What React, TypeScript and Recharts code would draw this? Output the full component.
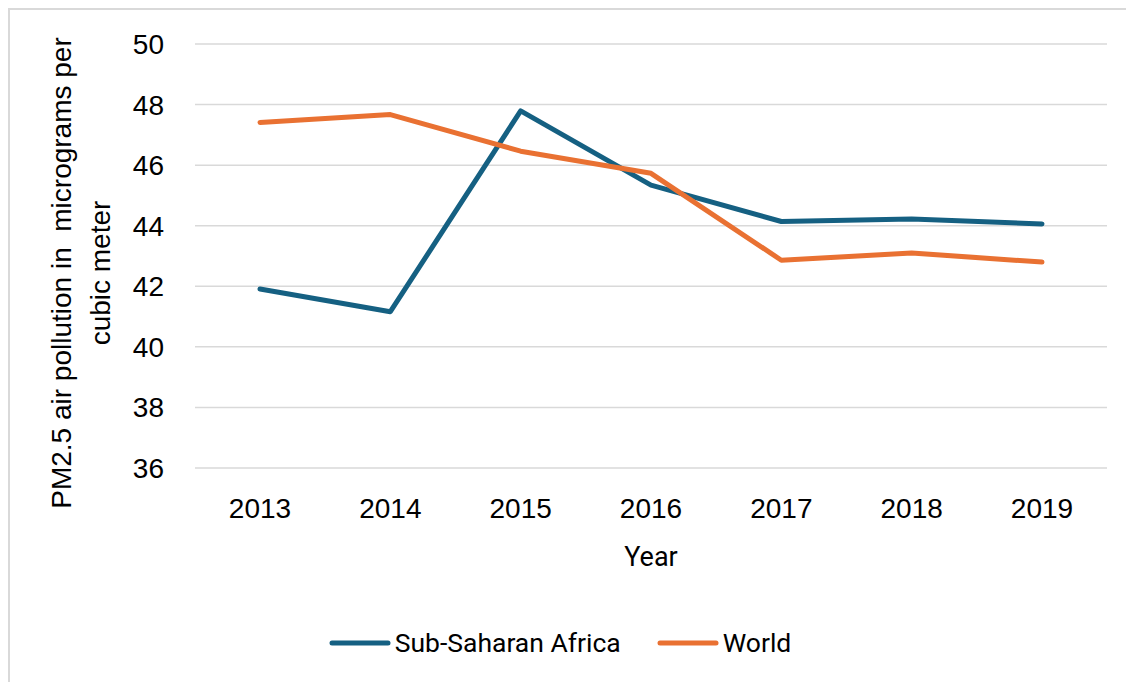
import React from "react";
import { LineChart, Line, XAxis, YAxis, CartesianGrid, Legend, Label } from "recharts";

const years = ["2013", "2014", "2015", "2016", "2017", "2018", "2019"];
const subSaharanAfrica = [41.91, 41.16, 47.79, 45.34, 44.14, 44.22, 44.06];
const world = [47.41, 47.67, 46.46, 45.73, 42.86, 43.1, 42.8];
const yTicks = [36, 38, 40, 42, 44, 46, 48, 50];

const seriesInfo = [
  { key: "ssa", name: "Sub-Saharan Africa", color: "#156082" },
  { key: "world", name: "World", color: "#E97132" },
];

const data = years.map((y, i) => ({ year: y, ssa: subSaharanAfrica[i], world: world[i] }));

const TICK_FONT = "'Liberation Sans', Arial, sans-serif";
const LEGEND_FONT = "Roboto, 'Noto Sans', sans-serif";

const YLabel = (props: any) => {
  const vb = props.viewBox || {};
  const cx = 61;
  const cy = (vb.y ?? 34) + (vb.height ?? 424) / 2 + 17;
  return (
    <text
      transform={`rotate(-90, ${cx}, ${cy})`}
      x={cx}
      y={cy}
      textAnchor="middle"
      fontFamily={TICK_FONT}
      fontSize={28}
      fill="#000"
    >
      <tspan x={cx} dy={0}>{"PM2.5 air pollution in\u00a0 micrograms per"}</tspan>
      <tspan x={cx} dy={39}>cubic meter</tspan>
    </text>
  );
};

const XLabel = (props: any) => {
  const vb = props.viewBox || {};
  const x = (vb.x ?? 185) + (vb.width ?? 912) / 2;
  const y = (vb.y ?? 458) + 97.7;
  return (
    <text x={x} y={y} textAnchor="middle" fontFamily={LEGEND_FONT} fontSize={27} fill="#000">
      Year
    </text>
  );
};

const LegendContent = () => (
  <div
    style={{
      display: "flex",
      justifyContent: "center",
      alignItems: "center",
      fontFamily: LEGEND_FONT,
      fontSize: 26.5,
      color: "#000",
    }}
  >
    {seriesInfo.map((s, i) => (
      <div key={s.key} style={{ display: "flex", alignItems: "center", marginLeft: i === 0 ? 0 : 36 }}>
        <svg width={62} height={8} style={{ marginRight: 4 }}>
          <line x1={3} y1={4} x2={59} y2={4} stroke={s.color} strokeWidth={5} strokeLinecap="round" />
        </svg>
        <span>{s.name}</span>
      </div>
    ))}
  </div>
);

export default function App() {
  return (
    <div>
      <style>{`body{overflow:hidden;}`}</style>
      <div
        style={{
          position: "relative",
          width: 1140,
          height: 690,
          border: "2px solid #d9d9d9",
          boxSizing: "content-box",
          background: "#fff",
        }}
      >
        <LineChart
          width={1124}
          height={672}
          data={data}
          margin={{ top: 34, right: 27, left: 0, bottom: 104 }}
        >
          <CartesianGrid vertical={false} stroke="#d9d9d9" strokeWidth={1.5} />
          <XAxis
            dataKey="year"
            axisLine={false}
            tickLine={false}
            tickSize={0}
            tickMargin={30}
            height={110}
            padding={{ left: 65, right: 65 }}
            tick={{ fontFamily: TICK_FONT, fontSize: 28, fill: "#000" }}
            interval={0}
          >
            <Label content={<XLabel />} />
          </XAxis>
          <YAxis
            domain={[36, 50]}
            ticks={yTicks}
            axisLine={false}
            tickLine={false}
            tickSize={0}
            tickMargin={31}
            width={185}
            tick={{ fontFamily: TICK_FONT, fontSize: 28, fill: "#000" }}
            interval={0}
          >
            <Label content={<YLabel />} />
          </YAxis>
          <Legend
            layout="horizontal"
            verticalAlign="middle"
            align="center"
            content={<LegendContent />}
            wrapperStyle={{ top: 617, left: 0, width: 1100, height: 36 }}
          />
          {seriesInfo.map((s) => (
            <Line
              key={s.key}
              type="linear"
              dataKey={s.key}
              name={s.name}
              stroke={s.color}
              strokeWidth={5}
              strokeLinecap="round"
              strokeLinejoin="round"
              dot={false}
              activeDot={false}
              isAnimationActive={false}
            />
          ))}
        </LineChart>
      </div>
    </div>
  );
}
